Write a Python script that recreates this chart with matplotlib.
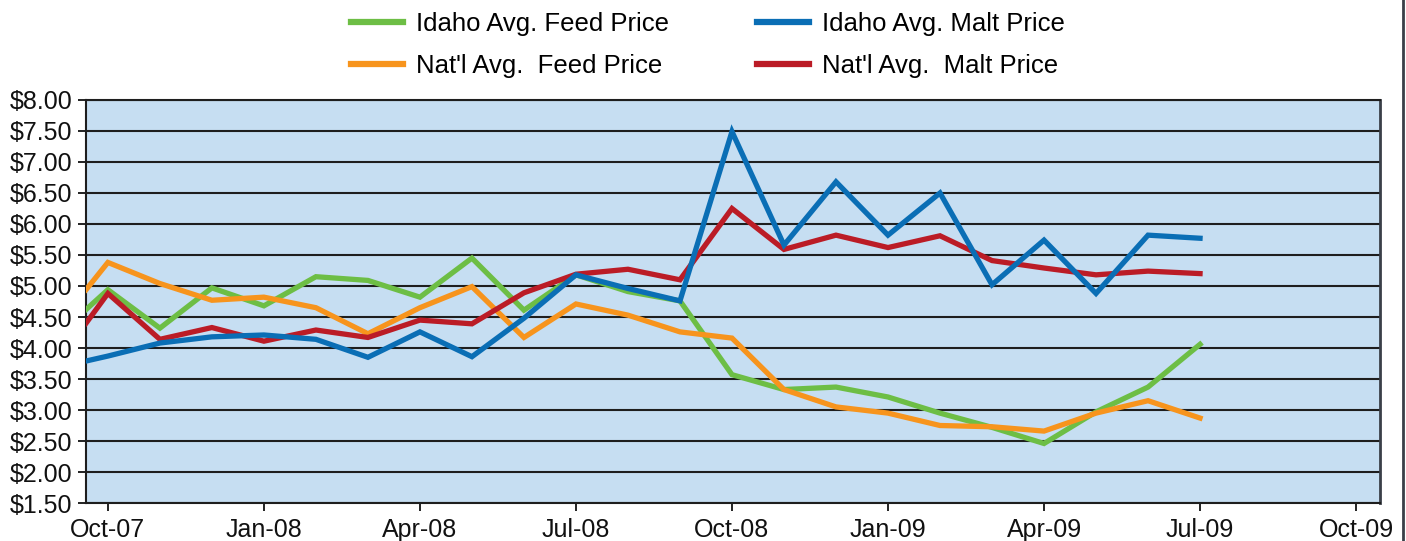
#!/usr/bin/env python3
"""Idaho vs national barley prices (feed and malt), Sep-07 .. Jul-09."""

import matplotlib
matplotlib.use("Agg")
import matplotlib.pyplot as plt
from matplotlib.lines import Line2D
from matplotlib.ticker import FuncFormatter, FixedLocator

plt.rcParams["font.family"] = ["Liberation Sans", "DejaVu Sans"]

# month offset from Oct-07 (first point sits just before Oct-07 at the axis edge)
months = [-0.42] + list(range(0, 22))

idaho_feed = [4.62, 4.94, 4.32, 4.97, 4.68, 5.15, 5.09, 4.82, 5.45, 4.61, 5.18,
              4.91, 4.76, 3.57, 3.33, 3.37, 3.21, 2.95, 2.72, 2.46, 2.97, 3.37, 4.06]
natl_feed = [4.94, 5.38, 5.04, 4.77, 4.82, 4.65, 4.23, 4.65, 4.99, 4.17, 4.71,
             4.53, 4.26, 4.16, 3.33, 3.05, 2.95, 2.75, 2.73, 2.66, 2.95, 3.15, 2.87]
idaho_malt = [3.79, 3.87, 4.08, 4.18, 4.21, 4.14, 3.85, 4.26, 3.86, 4.48, 5.18,
              4.96, 4.76, 7.49, 5.66, 6.68, 5.82, 6.50, 5.02, 5.74, 4.88, 5.82, 5.77]
natl_malt = [4.40, 4.88, 4.14, 4.33, 4.11, 4.29, 4.17, 4.45, 4.39, 4.89, 5.19,
             5.27, 5.10, 6.25, 5.59, 5.82, 5.62, 5.81, 5.41, 5.29, 5.18, 5.24, 5.20]

tick_pos = [0, 3, 6, 9, 12, 15, 18, 21, 24]
tick_labels = ["Oct-07", "Jan-08", "Apr-08", "Jul-08", "Oct-08",
               "Jan-09", "Apr-09", "Jul-09", "Oct-09"]
y_ticks = [1.5 + 0.5 * i for i in range(14)]

GREEN = "#6dbe45"
ORANGE = "#f7941d"
BLUE = "#0a6eb5"
RED = "#bb1c26"


def main() -> None:
	fig = plt.figure(figsize=(14.06, 5.41), dpi=100)
	ax = fig.add_axes([0.0612, 0.0702, 0.9203, 0.745])
	ax.set_facecolor("#c6def2")

	lw = 3.8
	ax.plot(months, idaho_feed, color=GREEN, lw=lw, solid_joinstyle="miter", zorder=3)
	ax.plot(months, natl_feed, color=ORANGE, lw=lw, solid_joinstyle="miter", zorder=3)
	ax.plot(months, natl_malt, color=RED, lw=lw, solid_joinstyle="miter", zorder=4)
	ax.plot(months, idaho_malt, color=BLUE, lw=lw, solid_joinstyle="miter", zorder=5)

	ax.set_xlim(-0.42, 24.46)
	ax.set_ylim(1.5, 8.0)
	ax.xaxis.set_major_locator(FixedLocator(tick_pos))
	ax.set_xticklabels(tick_labels)
	ax.yaxis.set_major_locator(FixedLocator(y_ticks))
	ax.yaxis.set_major_formatter(FuncFormatter(lambda v, _: f"${v:.2f}"))

	ax.grid(axis="y", color="#1e1e1e", lw=1.5, zorder=1)
	ax.set_axisbelow(True)
	for s in ax.spines.values():
		s.set_color("#1e1e1e")
		s.set_linewidth(1.5)
	ax.spines["right"].set_color("#3a3f48")
	ax.spines["right"].set_linewidth(2)

	ax.tick_params(axis="y", direction="out", length=6, width=1.3, pad=4,
	               labelsize=18, colors="#111111")
	ax.tick_params(axis="x", direction="out", length=6, width=1.3, pad=5,
	               labelsize=18, colors="#111111")

	handles = [
		Line2D([], [], color=GREEN, lw=4.5),
		Line2D([], [], color=ORANGE, lw=4.5),
		Line2D([], [], color=BLUE, lw=4.5),
		Line2D([], [], color=RED, lw=4.5),
	]
	labels = ["Idaho Avg. Feed Price", "Nat'l Avg.  Feed Price",
	          "Idaho Avg. Malt Price", "Nat'l Avg.  Malt Price"]
	fig.legend(handles, labels, ncol=2, loc="upper left",
	           bbox_to_anchor=(0.233, 1.02), frameon=False, fontsize=18.5,
	           handlelength=2.05, handletextpad=0.5, columnspacing=3.4,
	           labelspacing=0.68)

	# thin frame line on the right edge of the picture
	fig.add_artist(Line2D([0.998, 0.998], [0, 1], color="#3a3f48", lw=2,
	                      transform=fig.transFigure))

	fig.savefig("out.png", dpi=100)
	plt.close(fig)


if __name__ == "__main__":
	main()
